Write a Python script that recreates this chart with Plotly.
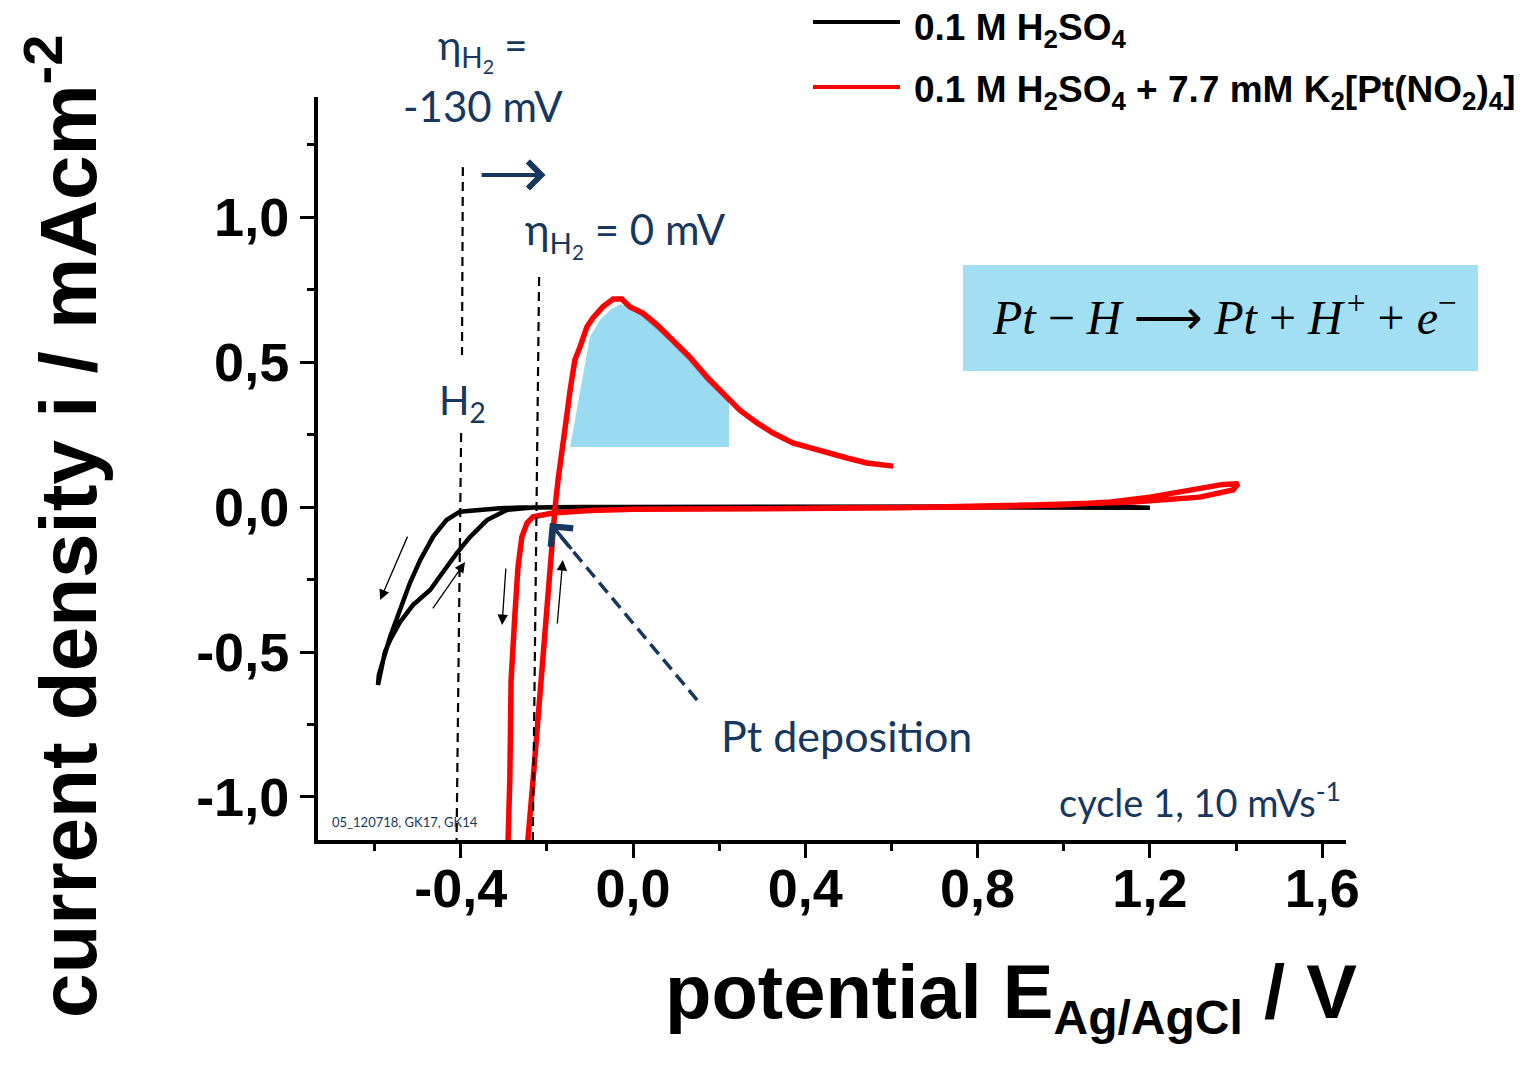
import plotly.graph_objects as go

# ---------------- data ----------------
# 0.1 M H2SO4 (black): anodic to 1.2 V, cathodic to -0.6 V, back
black_x = [-0.05, 0.2, 0.5, 0.8, 1.0, 1.1, 1.2,
           1.1, 0.9, 0.6, 0.3, 0.0, -0.169, -0.262, -0.309, -0.355, -0.402, -0.433, -0.464,
           -0.494, -0.518, -0.541, -0.564, -0.580, -0.590, -0.592,
           -0.585, -0.576, -0.564, -0.541, -0.511, -0.471, -0.441, -0.409, -0.378, -0.339,
           -0.293, -0.232, -0.123, 0.0]
black_y = [0.0, 0.001, 0.001, 0.002, 0.003, 0.002, -0.003,
           -0.002, -0.001, 0.0, 0.0, 0.0, 0.0, -0.002, -0.004, -0.009, -0.016, -0.045, -0.102,
           -0.183, -0.262, -0.355, -0.448, -0.528, -0.579, -0.614,
           -0.555, -0.500, -0.459, -0.397, -0.338, -0.286, -0.224, -0.159, -0.103, -0.045,
           -0.010, -0.002, 0.0, 0.0]

# 0.1 M H2SO4 + 7.7 mM K2[Pt(NO2)4] (red)
red_x = [0.4, 0.6, 0.8, 1.0, 1.1, 1.2, 1.3, 1.37, 1.405, 1.393, 1.316, 1.24, 1.161, 0.929,
         0.62, 0.3, 0.15, 0.0, -0.1, -0.15, -0.186, -0.232, -0.246, -0.258, -0.267, -0.274,
         -0.279, -0.283, -0.286, -0.290, -0.293,
         -0.248, -0.244, -0.232, -0.222, -0.212, -0.203, -0.195, -0.188, -0.181, -0.174,
         -0.163, -0.153, -0.146, -0.135, -0.123, -0.107, -0.093, -0.070, -0.046, -0.026,
         -0.007, 0.023, 0.056, 0.093, 0.132, 0.172, 0.218, 0.248, 0.288, 0.325, 0.371,
         0.441, 0.497, 0.543, 0.604]
red_y = [-0.004, -0.002, 0.0, 0.008, 0.016, 0.034, 0.060, 0.078, 0.080, 0.059, 0.034, 0.024,
         0.017, 0.007, -0.003, -0.006, -0.005, -0.008, -0.012, -0.015, -0.021, -0.034, -0.055,
         -0.103, -0.207, -0.366, -0.503, -0.597, -0.941, -1.148, -1.30,
         -1.30, -1.148, -0.941, -0.750, -0.560, -0.400, -0.240, -0.079, -0.003, 0.093,
         0.231, 0.324, 0.403, 0.507, 0.552, 0.621, 0.652, 0.690, 0.717, 0.717,
         0.690, 0.669, 0.628, 0.576, 0.517, 0.448, 0.379, 0.334, 0.290, 0.255, 0.221,
         0.190, 0.169, 0.152, 0.141]

# shaded Pt-H oxidation charge
fill_x = [-0.146, -0.123, -0.100, -0.077, -0.053, -0.030, -0.007, 0.023, 0.056, 0.093,
          0.132, 0.172, 0.223, 0.223, -0.146]
fill_y = [0.207, 0.403, 0.587, 0.645, 0.679, 0.700, 0.686, 0.659, 0.617, 0.566,
          0.507, 0.438, 0.362, 0.207, 0.207]
# faint shadow along the right flank of the shaded area
shadow_x = [-0.020, 0.023, 0.056, 0.093, 0.132, 0.172, 0.223]
shadow_y = [0.700, 0.660, 0.618, 0.566, 0.507, 0.438, 0.364]

# dashed guide lines
guide_a_upper_x = [-0.395, -0.397]
guide_a_upper_y = [1.172, 0.524]
guide_a_lower_x = [-0.399, -0.410]
guide_a_lower_y = [0.255, -1.20]
guide_b_x = [-0.218, -0.233]
guide_b_y = [0.793, -1.20]
ptdep_x = [0.149, -0.190]
ptdep_y = [-0.666, -0.062]

# ticks
x_tickvals = [-0.4, 0.0, 0.4, 0.8, 1.2, 1.6]
x_ticktext = ["-0,4", "0,0", "0,4", "0,8", "1,2", "1,6"]
x_minor = [-0.6, -0.2, 0.2, 0.6, 1.0, 1.4]
y_tickvals = [-1.0, -0.5, 0.0, 0.5, 1.0]
y_ticktext = ["-1,0", "-0,5", "0,0", "0,5", "1,0"]
y_minor = [-0.75, -0.25, 0.25, 0.75, 1.25]

X_RANGE = [-0.7313, 1.6553]
Y_RANGE = [-1.1483, 1.4138]

# ---------------- layout helpers ----------------
# page body has an 8px margin, so the figure is 16px smaller than the window
W, H = 1521, 1051
L, R, T, B = 310, 183, 89, 219
PW, PH = 1028, 743


def px(x):  # screen x (window coordinates) -> paper
    return (x - 318) / PW


def py(y):  # screen y (window coordinates) -> paper
    return (840 - y) / PH


NAVY = "#17375E"
TXT = "Lato"
BOLD = "Liberation Sans"

fig = go.Figure()

fig.add_trace(go.Scatter(x=fill_x, y=fill_y, mode="lines", fill="toself",
                         fillcolor="#9BDBF1", line=dict(width=0), hoverinfo="skip",
                         showlegend=False))
fig.add_trace(go.Scatter(x=shadow_x, y=shadow_y, mode="lines",
                         line=dict(color="#8C8FA3", width=3), hoverinfo="skip",
                         showlegend=False))
fig.add_trace(go.Scatter(x=black_x, y=black_y, mode="lines", name="0.1 M H2SO4",
                         line=dict(color="black", width=4.5), showlegend=False))
fig.add_trace(go.Scatter(x=red_x, y=red_y, mode="lines",
                         name="0.1 M H2SO4 + 7.7 mM K2[Pt(NO2)4]",
                         line=dict(color="#FF0000", width=5.5), showlegend=False))
for gx, gy in [(guide_a_upper_x, guide_a_upper_y), (guide_a_lower_x, guide_a_lower_y),
               (guide_b_x, guide_b_y)]:
    fig.add_trace(go.Scatter(x=gx, y=gy, mode="lines",
                             line=dict(color="black", width=2.2, dash="9px,6px"),
                             hoverinfo="skip", showlegend=False))
fig.add_trace(go.Scatter(x=ptdep_x, y=ptdep_y, mode="lines",
                         line=dict(color=NAVY, width=3.5, dash="13px,7px"),
                         hoverinfo="skip", showlegend=False))

annotations = []


def arrow(x0, y0, x1, y1, color="black", width=1.3, head=2, size=1.6):
    annotations.append(dict(x=x1, y=y1, ax=x0, ay=y0, xref="x", yref="y", axref="x",
                            ayref="y", text="", showarrow=True, arrowhead=head,
                            arrowwidth=width, arrowsize=size, arrowcolor=color))


arrow(-0.522, -0.097, -0.587, -0.321)
arrow(-0.467, -0.355, -0.390, -0.190)
arrow(-0.295, -0.207, -0.304, -0.407)
arrow(-0.176, -0.407, -0.163, -0.183)
arrow(-0.355, 1.145, -0.203, 1.145, color=NAVY, width=4, head=4, size=1.3)
arrow(-0.140, -0.150, -0.193, -0.055, color=NAVY, width=3.5, head=4, size=1.6)


def text(t, x, y, size, xanchor="center", yanchor="middle", family=TXT, color=NAVY,
         weight="normal", angle=0):
    annotations.append(dict(text=t, x=px(x), y=py(y), xref="paper", yref="paper",
                            showarrow=False, xanchor=xanchor, yanchor=yanchor,
                            textangle=angle,
                            font=dict(family=family, size=size, color=color, weight=weight)))


text("η<sub>H<sub>2</sub></sub> =", 483, 50, 40)
text("-130 mV", 483, 106, 42)
text("η<sub>H<sub>2</sub></sub> = 0 mV", 523, 234, 42, xanchor="left")
text("H<sub>2</sub>", 462, 402, 40)
text("Pt deposition", 846, 735, 43)
text("cycle 1, 10 mVs<sup>-1</sup>", 1343, 800, 38, xanchor="right")
text("05_120718, GK17, GK14", 330, 822, 13, xanchor="left")

# equation
text("<i>Pt</i> − <i>H</i> <span style=\"font-family:DejaVu Sans\">⟶</span> <i>Pt</i> + "
     "<i>H</i>\u200a<sup>+</sup> + <i>e</i><sup>−</sup>",
     1224, 314, 48, family="Liberation Serif", color="black")

# legend
text("0.1 M H<sub>2</sub>SO<sub>4</sub>", 912, 30, 37, xanchor="left", family=BOLD,
     color="black", weight="bold")
text("0.1 M H<sub>2</sub>SO<sub>4</sub> + 7.7 mM K<sub>2</sub>[Pt(NO<sub>2</sub>)<sub>4</sub>]",
     912, 92, 37, xanchor="left", family=BOLD, color="black", weight="bold")

# axis titles
text("current density i / mAcm<sup>-2</sup>", 62, 527, 80, family=BOLD, color="black",
     weight="bold", angle=-90)
text("potential E<sub><span style=\"font-size:48px\">Ag/AgCl</span></sub> / V", 1011, 996,
     76, family=BOLD, color="black", weight="bold")

shapes = [
    dict(type="rect", xref="paper", yref="paper", x0=px(963), x1=px(1478), y0=py(371),
         y1=py(265), fillcolor="#A3DFF3", line=dict(width=0), layer="below"),
    dict(type="line", xref="paper", yref="paper", x0=px(813), x1=px(900), y0=py(22),
         y1=py(22), line=dict(color="black", width=4)),
    dict(type="line", xref="paper", yref="paper", x0=px(813), x1=px(900), y0=py(87),
         y1=py(87), line=dict(color="#FF0000", width=4)),
]

axis_common = dict(showgrid=False, zeroline=False, showline=True, linewidth=4,
                   linecolor="black", ticks="outside", ticklen=14, tickwidth=3,
                   tickcolor="black", tickmode="array",
                   tickfont=dict(family=BOLD, size=54, color="black", weight="bold"))

fig.update_layout(
    width=W, height=H,
    margin=dict(l=L, r=R, t=T, b=B, pad=0),
    paper_bgcolor="white", plot_bgcolor="white",
    showlegend=False,
    xaxis=dict(range=X_RANGE, tickvals=x_tickvals, ticktext=x_ticktext,
               ticklabelstandoff=-16,
               minor=dict(tickvals=x_minor, ticks="outside", ticklen=7, tickwidth=3,
                          tickcolor="black"),
               **axis_common),
    yaxis=dict(range=Y_RANGE, tickvals=y_tickvals, ticktext=y_ticktext,
               minor=dict(tickvals=y_minor, ticks="outside", ticklen=7, tickwidth=3,
                          tickcolor="black"),
               **axis_common),
    annotations=annotations,
    shapes=shapes,
)

fig.write_html("out.html")
